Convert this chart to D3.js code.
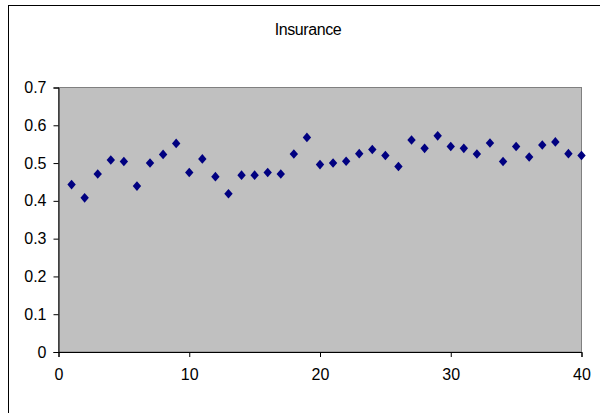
<!DOCTYPE html>
<html>
<head>
<meta charset="utf-8">
<script src="https://cdn.jsdelivr.net/npm/d3@7"></script>
<style>
  html, body { margin: 0; padding: 0; background: #fff; }
  svg { display: block; }
  text { font-family: "Liberation Sans", Arial, sans-serif; fill: #000; }
</style>
</head>
<body>
<svg id="chart" width="600" height="413"></svg>
<script>
// Series: observation index and insurance ratio
const periods = d3.range(1, 41);
const insurance = [
  0.443, 0.408, 0.471, 0.508, 0.504, 0.439, 0.500, 0.523, 0.552, 0.475,
  0.511, 0.464, 0.419, 0.468, 0.468, 0.475, 0.471, 0.524, 0.568, 0.496,
  0.500, 0.505, 0.525, 0.536, 0.520, 0.491, 0.561, 0.539, 0.572, 0.544,
  0.539, 0.524, 0.553, 0.504, 0.544, 0.516, 0.548, 0.556, 0.525, 0.520
];
const xTicks = [0, 10, 20, 30, 40];
const yTicks = [0, 0.1, 0.2, 0.3, 0.4, 0.5, 0.6, 0.7];
const title = "Insurance";

const svg = d3.select("#chart");
const plot = { left: 58.5, right: 581.5, top: 87.5, bottom: 352 };

// Outer chart frame (open on right and bottom edges)
svg.append("rect")
  .attr("x", 8.5).attr("y", 5.5)
  .attr("width", 620).attr("height", 430)
  .attr("fill", "#fff").attr("stroke", "#000").attr("stroke-width", 1);

const x = d3.scaleLinear().domain([0, 40]).range([plot.left, plot.right]);
const y = d3.scaleLinear().domain([0, 0.7]).range([plot.bottom, plot.top]);

// Plot area
svg.append("rect")
  .attr("x", plot.left).attr("y", plot.top)
  .attr("width", plot.right - plot.left).attr("height", plot.bottom - plot.top)
  .attr("fill", "#c0c0c0").attr("stroke", "#808080").attr("stroke-width", 1);

// Title
svg.append("text")
  .attr("x", 308).attr("y", 35)
  .attr("text-anchor", "middle")
  .attr("font-size", 16)
  .attr("letter-spacing", "-0.4")
  .text(title);

// Axes
const yAxis = d3.axisLeft(y).tickValues(yTicks).tickSize(5).tickPadding(7)
  .tickFormat(d => d === 0 ? "0" : d3.format(".1f")(d));
const xAxis = d3.axisBottom(x).tickValues(xTicks).tickSize(5).tickPadding(12)
  .tickFormat(d3.format("d"));

const gy = svg.append("g").attr("transform", `translate(${plot.left},0)`).call(yAxis);
const gx = svg.append("g").attr("transform", `translate(0,${plot.bottom})`).call(xAxis);

[gx, gy].forEach(g => {
  g.select(".domain").attr("stroke", "#000").attr("stroke-width", 1);
  g.selectAll(".tick line").attr("stroke", "#000");
  g.selectAll(".tick text")
    .attr("font-size", 16)
    .attr("font-family", "Liberation Sans, Arial, sans-serif")
    .attr("fill", "#000");
});

// Diamond markers, slightly taller than wide
const squatDiamond = {
  draw(ctx) {
    ctx.moveTo(0, -4.8);
    ctx.lineTo(4.2, 0);
    ctx.lineTo(0, 4.8);
    ctx.lineTo(-4.2, 0);
    ctx.closePath();
  }
};
svg.append("g")
  .selectAll("path")
  .data(periods.map((p, i) => ({ p, v: insurance[i] })))
  .join("path")
  .attr("d", d3.symbol().type(squatDiamond))
  .attr("transform", d => `translate(${x(d.p)},${y(d.v)})`)
  .attr("fill", "#000080");
</script>
</body>
</html>
